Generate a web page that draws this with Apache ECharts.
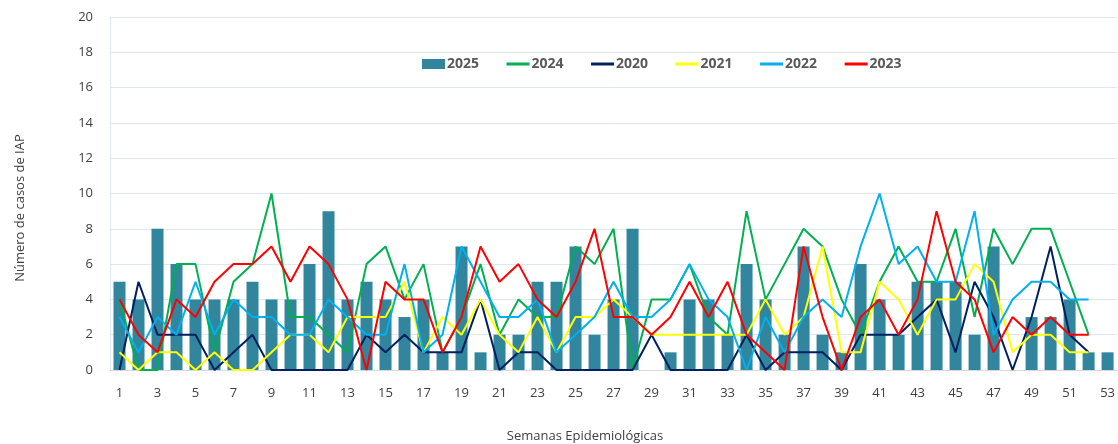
<!DOCTYPE html>
<html>
<head>
<meta charset="utf-8">
<script src="https://cdn.jsdelivr.net/npm/echarts@6/dist/echarts.min.js"></script>
<style>
  html, body { margin: 0; padding: 0; background: #fff; }
  #chart { width: 1118px; height: 444px; }
</style>
</head>
<body>
<div id="chart"></div>
<script>
var weeks = [];
for (var i = 1; i <= 53; i++) { weeks.push(String(i)); }

var yTicks = [0, 2, 4, 6, 8, 10, 12, 14, 16, 18, 20];

// casos por semana
var data2025 = [5, 4, 8, 6, 4, 4, 4, 5, 4, 4, 6, 9, 4, 5, 4, 3, 4, 1, 7, 1, 2, 2, 5, 5, 7, 2, 4, 8, 0, 1, 4, 4, 2, 6, 4, 2, 7, 2, 1, 6, 4, 2, 5, 5, 5, 2, 7, 0, 3, 3, 4, 1, 1];
var data2024 = [4, 0, 0, 6, 6, 1, 5, 6, 10, 3, 3, 2, 1, 6, 7, 4, 6, 1, 3, 6, 2, 4, 3, 3, 7, 6, 8, 0, 4, 4, 6, 3, 2, 9, 4, 6, 8, 7, 4, 2, 5, 7, 5, 5, 8, 3, 8, 6, 8, 8, 5, 2];
var data2020 = [0, 5, 2, 2, 2, 0, 1, 2, 0, 0, 0, 0, 0, 2, 1, 2, 1, 1, 1, 4, 0, 1, 1, 0, 0, 0, 0, 0, 2, 0, 0, 0, 0, 2, 0, 1, 1, 1, 0, 2, 2, 2, 3, 4, 1, 5, 3, 0, 3, 7, 2, 1];
var data2021 = [1, 0, 1, 1, 0, 1, 0, 0, 1, 2, 2, 1, 3, 3, 3, 5, 1, 3, 2, 4, 2, 1, 3, 1, 3, 3, 4, 3, 2, 2, 2, 2, 2, 2, 4, 2, 3, 7, 1, 1, 5, 4, 2, 4, 4, 6, 5, 1, 2, 2, 1, 1];
var data2022 = [3, 1, 3, 2, 5, 2, 4, 3, 3, 2, 2, 4, 3, 2, 2, 6, 1, 2, 7, 5, 3, 3, 4, 1, 2, 3, 5, 3, 3, 4, 6, 4, 3, 0, 3, 1, 3, 4, 3, 7, 10, 6, 7, 5, 5, 9, 2, 4, 5, 5, 4, 4];
var data2023 = [4, 2, 1, 4, 3, 5, 6, 6, 7, 5, 7, 6, 4, 0, 5, 4, 4, 1, 3, 7, 5, 6, 4, 3, 5, 8, 3, 3, 2, 3, 5, 3, 5, 2, 1, 0, 7, 3, 0, 3, 4, 2, 4, 9, 5, 4, 1, 3, 2, 3, 2, 2];

var lineSeries = [
  { name: '2024', color: '#00b050', data: data2024 },
  { name: '2020', color: '#002060', data: data2020 },
  { name: '2021', color: '#ffff00', data: data2021 },
  { name: '2022', color: '#00b0f0', data: data2022 },
  { name: '2023', color: '#ff0000', data: data2023 }
];

var labelFont = "'Open Sans', 'Noto Sans', sans-serif";

var series = [{
  name: '2025',
  type: 'bar',
  barWidth: 12,
  itemStyle: { color: '#31859c' },
  data: data2025
}];
var legendData = [{ name: '2025', icon: 'rect' }];
lineSeries.forEach(function (s) {
  series.push({
    name: s.name,
    type: 'line',
    symbol: 'none',
    lineStyle: { width: 2, color: s.color },
    itemStyle: { color: s.color },
    data: s.data
  });
  legendData.push({
    name: s.name,
    itemStyle: { color: 'rgba(0,0,0,0)', opacity: 0, borderWidth: 0 },
    lineStyle: { width: 3, color: s.color }
  });
});

var chart = echarts.init(document.getElementById('chart'), null, { renderer: 'canvas' });
chart.setOption({
  animation: false,
  grid: { left: 110, right: -2, top: 17, bottom: 74 },
  legend: {
    left: 417,
    top: 52,
    itemWidth: 23,
    itemHeight: 10,
    itemGap: 26,
    textStyle: { fontFamily: labelFont, fontWeight: 'bold', fontSize: 14, color: '#595959', padding: [0, 0, 0, -3] },
    data: legendData
  },
  xAxis: {
    type: 'category',
    data: weeks,
    axisTick: { show: false },
    axisLine: { lineStyle: { color: '#d9d9d9', width: 1 } },
    axisLabel: { interval: 1, margin: 17, fontFamily: labelFont, fontSize: 13, color: '#404040' }
  },
  yAxis: {
    type: 'value',
    min: yTicks[0],
    max: yTicks[yTicks.length - 1],
    interval: 2,
    axisLine: { show: true, lineStyle: { color: '#dbe8f3' } },
    axisTick: { show: false },
    splitLine: { lineStyle: { color: '#dde7f1' } },
    axisLabel: { margin: 17, fontFamily: labelFont, fontSize: 13, color: '#404040' }
  },
  graphic: [
    {
      type: 'text', x: 20, y: 208, rotation: Math.PI / 2,
      style: { text: 'Número de casos de IAP', fontFamily: labelFont, fontSize: 13, fill: '#404040', align: 'center', verticalAlign: 'middle' }
    },
    {
      type: 'text', x: 585, y: 436,
      style: { text: 'Semanas Epidemiológicas', fontFamily: labelFont, fontSize: 13, fill: '#404040', align: 'center', verticalAlign: 'middle' }
    }
  ],
  series: series
});
</script>
</body>
</html>
